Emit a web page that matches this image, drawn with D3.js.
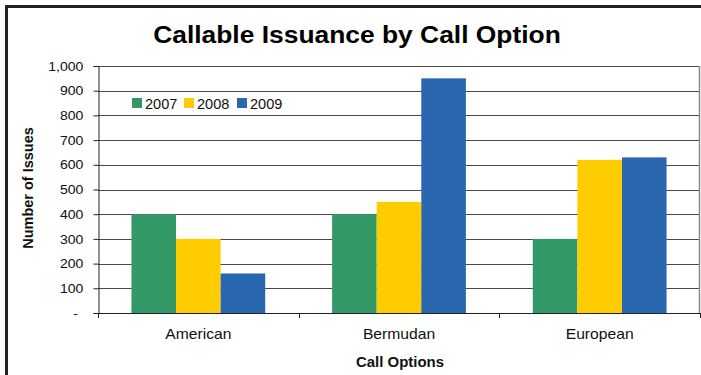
<!DOCTYPE html>
<html>
<head>
<meta charset="utf-8">
<script src="https://cdn.jsdelivr.net/npm/d3@7/dist/d3.min.js"></script>
<style>
  html, body { margin: 0; padding: 0; background: #fff; }
  svg { display: block; font-family: Arial, "Liberation Sans", sans-serif; }
</style>
</head>
<body>
<svg id="chart" width="701" height="375"></svg>
<script>
const categories = ["American", "Bermudan", "European"];
const seriesNames = ["2007", "2008", "2009"];
const values2007 = [400, 400, 300];
const values2008 = [300, 450, 620];
const values2009 = [160, 950, 630];
const yTicks = [0, 100, 200, 300, 400, 500, 600, 700, 800, 900, 1000];
const colors = ["#339966", "#FFCC00", "#2A67B1"];

const seriesValues = [values2007, values2008, values2009];
const data = categories.map((c, i) => ({
  category: c,
  values: seriesNames.map((s, j) => ({ series: s, value: seriesValues[j][i], color: colors[j] }))
}));

const svg = d3.select("#chart");
const m = { left: 98, right: 700, top: 66, bottom: 313 };
const FONT = "Arial, 'Liberation Sans', sans-serif";

// frame
svg.append("line").attr("x1", 5).attr("x2", 701).attr("y1", 6.5).attr("y2", 6.5)
  .attr("stroke", "#222").attr("stroke-width", 3);
svg.append("line").attr("x1", 6.5).attr("x2", 6.5).attr("y1", 5).attr("y2", 375)
  .attr("stroke", "#222").attr("stroke-width", 3);

const x = d3.scaleBand().domain(categories).range([m.left, m.right])
  .paddingInner(1/3).paddingOuter(1/6);
const xs = d3.scaleBand().domain(seriesNames).range([0, x.bandwidth()]).padding(0);
const y = d3.scaleLinear().domain([0, 1000]).range([m.bottom, m.top]);

// gridlines
svg.append("g").selectAll("line").data(yTicks.filter(d => d > 0)).join("line")
  .attr("x1", m.left).attr("x2", m.right)
  .attr("y1", d => Math.round(y(d)) + 0.5).attr("y2", d => Math.round(y(d)) + 0.5)
  .attr("stroke", "#4a4a4a").attr("stroke-width", 1);

// right plot border
svg.append("line").attr("x1", m.right - 0.5).attr("x2", m.right - 0.5)
  .attr("y1", y(1000)).attr("y2", y(0)).attr("stroke", "#888").attr("stroke-width", 1.5);

// bars
const g = svg.append("g").selectAll("g").data(data).join("g")
  .attr("transform", d => `translate(${x(d.category)},0)`);
g.selectAll("rect").data(d => d.values).join("rect")
  .attr("x", d => xs(d.series))
  .attr("width", xs.bandwidth())
  .attr("y", d => y(d.value))
  .attr("height", d => y(0) - y(d.value))
  .attr("fill", d => d.color);

// y axis
const yAxis = d3.axisLeft(y).tickValues(yTicks).tickSize(5).tickPadding(9)
  .tickFormat(d => d === 0 ? "-" : d3.format(",")(d));
const ya = svg.append("g").attr("transform", `translate(${m.left + 0.5},0)`).call(yAxis);
ya.select(".domain").attr("stroke", "#222");
ya.selectAll(".tick line").attr("stroke", "#222");
ya.selectAll(".tick text").attr("font-size", 13).attr("fill", "#111")
  .attr("font-family", FONT).attr("transform", "scale(1.08,1)");
ya.selectAll(".tick text").filter(d => d === 0).attr("dx", -5);

// x axis line
svg.append("line").attr("x1", m.left).attr("x2", m.right)
  .attr("y1", y(0) + 0.5).attr("y2", y(0) + 0.5).attr("stroke", "#222").attr("stroke-width", 1.2);
// x ticks at category boundaries
const step = x.step();
const boundaries = d3.range(categories.length + 1).map(i => m.left + i * step);
svg.append("g").selectAll("line").data(boundaries).join("line")
  .attr("x1", d => Math.round(d) + 0.5).attr("x2", d => Math.round(d) + 0.5)
  .attr("y1", y(0)).attr("y2", y(0) + 5).attr("stroke", "#222");
// category labels
const xAxis = d3.axisBottom(x).tickSize(0).tickPadding(16);
const xa = svg.append("g").attr("transform", `translate(0,${y(0)})`).call(xAxis);
xa.select(".domain").remove();
xa.selectAll(".tick text").attr("font-size", 14.5).attr("fill", "#111")
  .attr("font-family", FONT).attr("transform", "scale(1.08,1)");

// title
svg.append("g").attr("transform", "translate(357,43) scale(1.1,1)")
  .append("text").attr("text-anchor", "middle")
  .attr("font-size", 24).attr("font-weight", "bold").attr("fill", "#000")
  .text("Callable Issuance by Call Option");

// axis titles
svg.append("g").attr("transform", "translate(400,367) scale(1.07,1)")
  .append("text").attr("text-anchor", "middle")
  .attr("font-size", 14).attr("font-weight", "bold").attr("fill", "#111")
  .text("Call Options");
svg.append("text").attr("transform", "translate(33,188) rotate(-90)")
  .attr("text-anchor", "middle").attr("font-size", 14.5).attr("font-weight", "bold").attr("fill", "#111")
  .text("Number of Issues");

// legend
const legendX = [132, 184, 237];
const lg = svg.append("g").selectAll("g").data(seriesNames).join("g")
  .attr("transform", (d, i) => `translate(${legendX[i]},98)`);
lg.append("rect").attr("width", 10).attr("height", 10).attr("fill", (d, i) => colors[i]);
lg.append("text").attr("x", 13).attr("y", 10.5).attr("font-size", 14.5).attr("fill", "#111").text(d => d);
</script>
</body>
</html>
